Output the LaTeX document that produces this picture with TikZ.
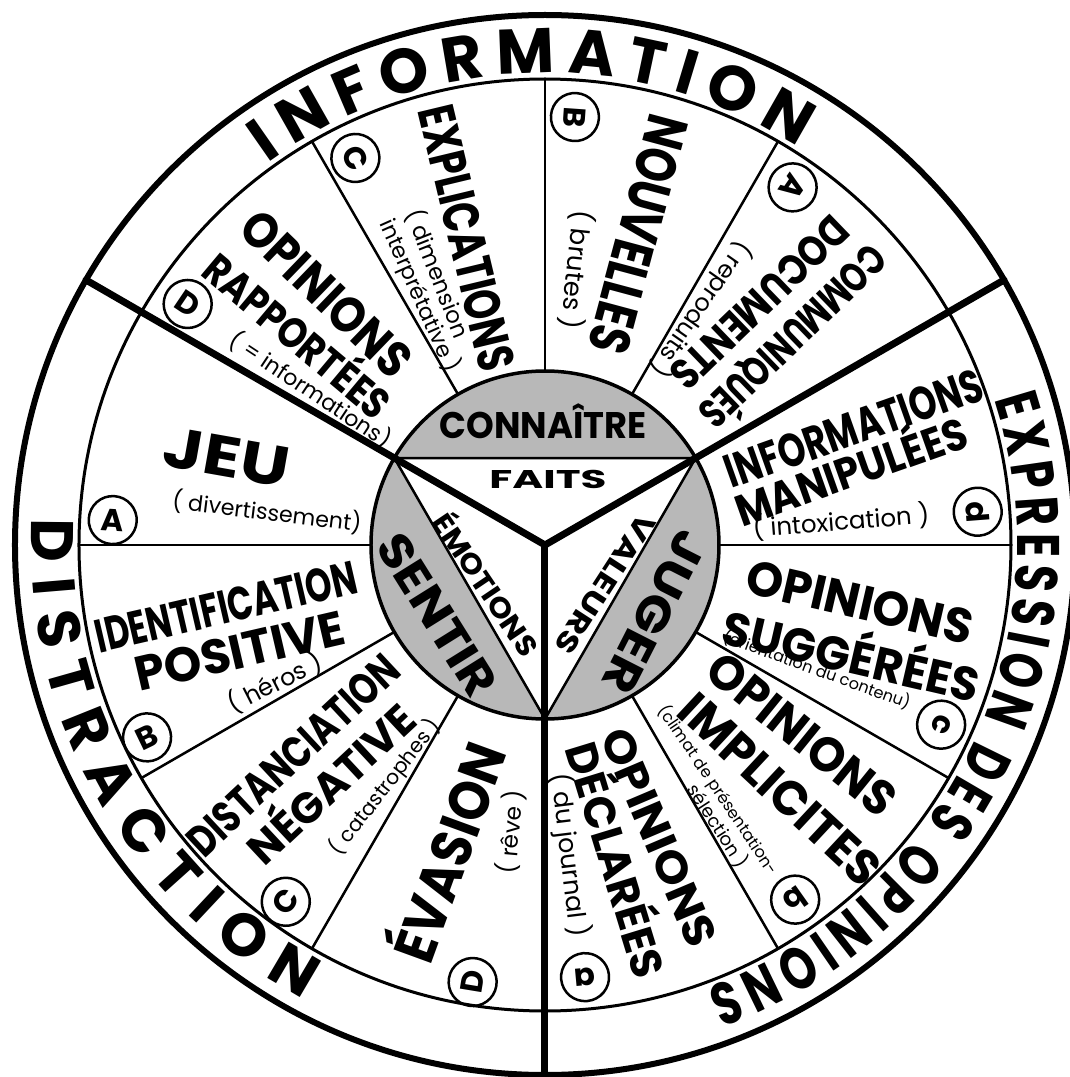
\documentclass[tikz,border=0pt]{standalone}
\usepackage{fontspec}
\usepackage{graphicx}
\setmainfont{Poppins}
\newfontfamily\narrowband{Poppins}[FakeStretch=0.74]
\usetikzlibrary{decorations.text}

% lettering helpers: bold word squeezed to a given length and cap height, small word to a length
\newcommand{\bandfont}{\bfseries\fontsize{60}{60}\selectfont}
\newcommand{\wideband}{\bfseries\fontsize{63}{63}\selectfont}
\newcommand{\narrowfont}{\narrowband\bfseries\fontsize{60}{60}\selectfont}
\newcommand{\bigword}[3]{\resizebox{#1pt}{#2pt}{\bfseries\smash{#3}\vphantom{X}}}
\newcommand{\smallword}[2]{\resizebox{#1pt}{!}{#2}}

\begin{document}
\begin{tikzpicture}[
    x=1pt, y=1pt,
    word/.style={inner sep=0pt},
    ring/.style={circle, draw, line width=2.5pt, minimum size=48pt, inner sep=0pt, font=\bfseries\fontsize{31}{31}\selectfont},
    rim/.style={line width=6pt},
    band/.style={line width=3pt},
    spoke/.style={line width=7pt, line cap=round},
    divider/.style={line width=2.5pt},
    core/.style={line width=3.5pt, fill=black!28}
]
\useasboundingbox (-545,-532) rectangle (524,545);

% ============ RINGS ============
\coordinate (o) at (0,0);
\draw[rim] (o) circle[radius=530];
\draw[band] (o) circle[radius=466];

% thin dividers between the items
\foreach \a in {0,60,90,120,180,210,240,300,330}
    \draw[divider] (\a:174) -- (\a:466);

% ============ CENTRE ============
\draw[core] (o) circle[radius=174];
\draw[divider, fill=white] (30:174) -- (150:174) -- (270:174) -- cycle;
\foreach \a in {30,150,270}
    \draw[spoke] (o) -- (\a:530);

\node[word] (conn) at (-2,120) {\bigword{207}{26}{CONNAÎTRE}};
\node[word] (fait) at (3,66) {\bigword{117}{18}{FAITS}};
\node[word, rotate=-56] (emot) at (-60,-40) {\bigword{165}{20}{ÉMOTIONS}};
\node[word, rotate=-123] (vale) at (60,-39) {\bigword{160}{20}{VALEURS}};
\node[word, rotate=-58] (sent) at (-108,-70) {\bigword{183}{33}{SENTIR}};
\node[word, rotate=-117] (juge) at (110,-67) {\bigword{175}{33}{JUGER}};

% ============ OUTER BAND ============
\path[decorate, decoration={text along path, text align={fit to path},
    text={|\wideband|INFORMATION}}]
    (126:472) arc[start angle=126, end angle=57.5, radius=472];
\path[decorate, decoration={text along path, text align={fit to path},
    text={|\narrowfont|EXPRESSION DES OPINIONS}}]
    (18:472) arc[start angle=18, end angle=-70, radius=472];
\path[decorate, decoration={text along path, text align={fit to path},
    text={|\bandfont|DISTRACTION}}]
    (177:514) arc[start angle=177, end angle=242, radius=514];

% ============ INFORMATION ============
\node[word, rotate=-44] (rapp1) at (131.1:333) {\bigword{216}{35}{OPINIONS}};
\node[word, rotate=-40] (rapp2) at (140:324) {\bigword{229}{30}{RAPPORTÉES}};
\node[word, rotate=-33.5] (rapp3) at (146.5:281) {\smallword{188}{( = informations)}};
\node[ring, rotate=-34] (ringD1) at (146:431) {D};

\node[word, rotate=-76.5] (expl1) at (104.3:317) {\bigword{271}{36}{EXPLICATIONS}};
\node[word, rotate=-68.5] (expl2) at (111.5:292) {\smallword{136}{( dimension}};
\node[word, rotate=-66] (expl3) at (116.7:279) {\smallword{165}{interprétative )}};
\node[ring, rotate=-64] (ringC1) at (116.1:431) {C};

\node[word, rotate=-105] (nouv1) at (73.3:324) {\bigword{244}{40}{NOUVELLES}};
\node[word, rotate=-96] (nouv2) at (83.4:277) {\smallword{120}{( brutes )}};
\node[ring, rotate=-94] (ringB1) at (86:429) {B};

\node[word, rotate=-136] (comm1) at (40.1:324) {\bigword{242}{29}{COMMUNIQUÉS}};
\node[word, rotate=-136] (comm2) at (48.5:324) {\bigword{229}{30}{DOCUMENTS}};
\node[word, rotate=-125] (comm3) at (56.5:283) {\smallword{158}{( reproduits )}};
\node[ring, rotate=-124.7] (ringA1) at (55.3:435) {A};

% ============ EXPRESSION DES OPINIONS ============
\node[word, rotate=19.5] (mani1) at (20.7:330) {\bigword{270}{33}{INFORMATIONS}};
\node[word, rotate=19.5] (mani2) at (13.4:315) {\bigword{243}{31}{MANIPULÉES}};
\node[word, rotate=4.5] (mani3) at (4.6:297) {\smallword{177}{( intoxication )}};
\node[ring, rotate=-85.6] (ringd) at (4.4:434) {d};

\node[word, rotate=-13] (sugg1) at (-10.3:320) {\bigword{231}{34}{OPINIONS}};
\node[word, rotate=-13] (sugg2) at (-20.1:326) {\bigword{262}{33}{SUGGÉRÉES}};
\node[word, rotate=-20] (sugg3) at (-24.6:299) {\smallword{198}{(orientation du contenu)}};
\node[ring, rotate=-114.4] (ringc) at (-24.4:435) {c};

\node[word, rotate=-39] (impl1) at (-36.4:319.4) {\bigword{228}{34}{OPINIONS}};
\node[word, rotate=-43] (impl2) at (-46.1:339) {\bigword{256}{34}{IMPLICITES}};
\node[word, rotate=-56] (impl3) at (-54.73:300.1) {\smallword{200}{(climat de présentation-}};
\node[word, rotate=-57] (impl4) at (-58.33:329.9) {\smallword{95}{sélection )}};
\node[ring, rotate=-144.8] (ringb) at (-54.8:434) {b};

\node[word, rotate=-67] (decl1) at (-68.7:314) {\bigword{233}{31}{OPINIONS}};
\node[word, rotate=-73] (decl2) at (-77.5:323) {\bigword{243}{31}{DÉCLARÉES}};
\node[word, rotate=-83] (decl3) at (-85.5:311) {\smallword{165}{( du journal )}};
\node[ring, rotate=-174.7] (ringa) at (-84.7:434) {a};

% ============ DISTRACTION ============
\node[word, rotate=-10] (jeu1) at (164.5:330) {\bigword{127}{40}{JEU}};
\node[word, rotate=-7] (jeu2) at (173.2:280) {\smallword{190}{( divertissement)}};
\node[ring, rotate=-3.3] (ringA2) at (176.7:433) {A};

\node[word, rotate=13] (iden1) at (191:325) {\bigword{267}{33}{IDENTIFICATION}};
\node[word, rotate=13] (iden2) at (199.2:323) {\bigword{214}{34}{POSITIVE}};
\node[word, rotate=27] (iden3) at (207:303) {\smallword{102}{( héros )}};
\node[ring, rotate=25.8] (ringB2) at (205.8:442) {B};

\node[word, rotate=43] (dist1) at (219.8:328) {\bigword{272}{31}{DISTANCIATION}};
\node[word, rotate=43] (dist2) at (228.35:320.6) {\bigword{212}{30}{NÉGATIVE}};
\node[word, rotate=52] (dist3) at (236.5:290) {\smallword{165}{( catastrophes )}};
\node[ring, rotate=54] (ringC2) at (234:441) {C};

\node[word, rotate=70] (evas1) at (252.9:322) {\bigword{227}{40}{ÉVASION}};
\node[word, rotate=85] (evas2) at (263.2:289) {\smallword{84}{( rêve )}};
\node[ring, rotate=80.6] (ringD2) at (260.6:443) {D};

\end{tikzpicture}
\end{document}
